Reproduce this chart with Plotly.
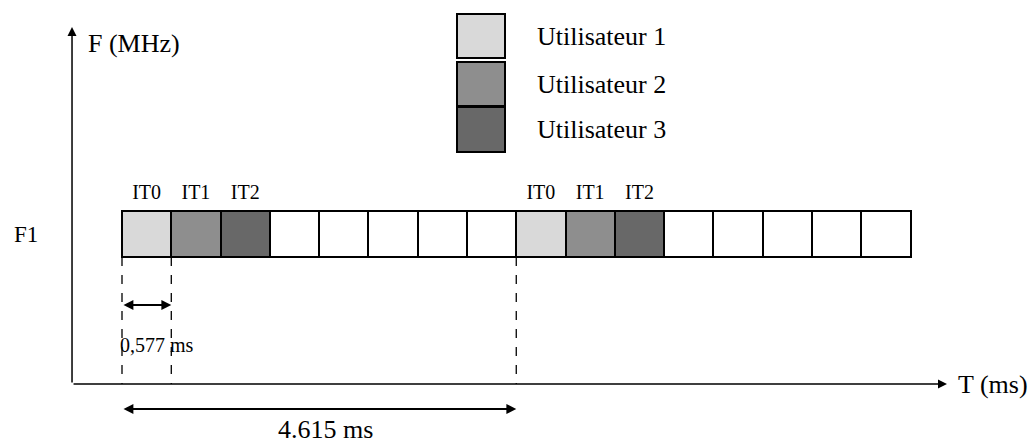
import plotly.graph_objects as go

# ---------------- data ----------------
slot_ms = 0.577            # duration of one time slot (IT)
frame_ms = 4.615           # TDMA frame duration (8 slots)
n_slots = 16               # slots drawn on the F1 carrier
slot_labels = ["IT0", "IT1", "IT2"]          # labelled slots in every frame
users = ["Utilisateur 1", "Utilisateur 2", "Utilisateur 3"]
user_colors = ["#d9d9d9", "#8e8e8e", "#686868"]
channel_name = "F1"
channel_level = 150        # vertical position of the F1 carrier row
row_height = 46

FONT = "Liberation Serif, Times New Roman, serif"
W, H = 1033, 446

# ---------------- slots ----------------
starts = [i * frame_ms / 8 for i in range(n_slots)]
centers = [s + frame_ms / 16 for s in starts]
colors = []
for i in range(n_slots):
    k = i % 8
    colors.append(user_colors[k] if k < len(users) else "white")

fig = go.Figure()
fig.add_trace(go.Bar(
    x=centers, y=[row_height] * n_slots, base=channel_level - row_height / 2,
    width=[frame_ms / 8] * n_slots,
    marker=dict(color=colors, line=dict(color="black", width=2)),
    showlegend=False, hoverinfo="skip"))

# IT labels above the coloured slots
lab_x, lab_t = [], []
for f in range(n_slots // 8):
    for j, lab in enumerate(slot_labels):
        lab_x.append(centers[f * 8 + j])
        lab_t.append(lab)
fig.add_trace(go.Scatter(
    x=lab_x, y=[channel_level + row_height / 2 + 17] * len(lab_x),
    mode="text", text=lab_t, textfont=dict(family=FONT, size=20, color="black"),
    showlegend=False, hoverinfo="skip"))

# ---------------- axes (drawn as arrows) ----------------
x_axis_left = -0.585
x_axis_right = 9.657
y_top = 357
ann = []
ann.append(dict(x=x_axis_left, y=y_top, ax=x_axis_left, ay=0, xref="x", yref="y",
                axref="x", ayref="y", showarrow=True, text="", arrowhead=2,
                arrowsize=1.2, arrowwidth=1.5, arrowcolor="black", standoff=0))
ann.append(dict(x=x_axis_right, y=0, ax=x_axis_left, ay=0, xref="x", yref="y",
                axref="x", ayref="y", showarrow=True, text="", arrowhead=2,
                arrowsize=1.2, arrowwidth=1.5, arrowcolor="black", standoff=0))

# dashed guides
shapes = []
for t in [0, slot_ms, frame_ms]:
    shapes.append(dict(type="line", xref="x", yref="y", x0=t, x1=t,
                       y0=channel_level - row_height / 2, y1=0,
                       line=dict(color="black", width=1.3, dash="dash")))

# double arrows
ann.append(dict(x=slot_ms, y=79, ax=0, ay=79, xref="x", yref="y", axref="x", ayref="y",
                showarrow=True, text="", arrowhead=2, arrowside="end+start",
                arrowsize=1.1, arrowwidth=1.8, arrowcolor="black", standoff=0, startstandoff=0))
ann.append(dict(x=frame_ms, y=-25, ax=0, ay=-25, xref="x", yref="y", axref="x", ayref="y",
                showarrow=True, text="", arrowhead=2, arrowside="end+start",
                arrowsize=1.1, arrowwidth=1.8, arrowcolor="black", standoff=0, startstandoff=0))

# texts
ann.append(dict(x=slot_ms / 2, y=39, xref="x", yref="y", text="0,577 ms", showarrow=False,
                xshift=10, font=dict(family=FONT, size=20, color="black")))
ann.append(dict(x=frame_ms / 2, y=-62, xref="x", yref="y", text="4.615 ms", showarrow=False,
                xshift=6, yanchor="bottom", font=dict(family=FONT, size=26, color="black")))
ann.append(dict(x=x_axis_left, y=y_top - 16, xref="x", yref="y", text="F (MHz)", showarrow=False,
                xanchor="left", xshift=14, font=dict(family=FONT, size=26, color="black")))
ann.append(dict(x=x_axis_right, y=0, xref="x", yref="y", text="T (ms)", showarrow=False,
                xanchor="left", xshift=9, font=dict(family=FONT, size=26, color="black")))
ann.append(dict(x=x_axis_left, y=channel_level, xref="x", yref="y", text=channel_name,
                showarrow=False, xanchor="right", xshift=-32,
                font=dict(family=FONT, size=23, color="black")))

# ---------------- custom legend ----------------
box_tops = [14, 62, 107]
box_h = [44, 44, 45]
for name, col, top, h in zip(users, user_colors, box_tops, box_h):
    shapes.append(dict(type="rect", xref="paper", yref="paper",
                       x0=457 / W, x1=505 / W, y0=1 - (top + h) / H, y1=1 - top / H,
                       fillcolor=col, line=dict(color="black", width=2)))
    ann.append(dict(x=535 / W, y=1 - (top + h / 2) / H, xref="paper", yref="paper",
                    text=name, showarrow=False, xanchor="left", yanchor="middle",
                    font=dict(family=FONT, size=26, color="black")))

px_per_ms = 85.43
fig.update_layout(
    width=W, height=H, margin=dict(l=0, r=0, t=0, b=0),
    paper_bgcolor="white", plot_bgcolor="white",
    xaxis=dict(range=[-122 / px_per_ms, (W - 122) / px_per_ms], visible=False, fixedrange=True),
    yaxis=dict(range=[-62, 384], visible=False, fixedrange=True),
    shapes=shapes, annotations=ann, showlegend=False, bargap=0,
)
fig.write_html("out.html", config={"displayModeBar": False})

# remove the default page margin so the figure fills the window exactly
with open("out.html", encoding="utf-8") as fh:
    html = fh.read()
html = html.replace("<head>", "<head><style>html,body{margin:0;padding:0;overflow:hidden}</style>", 1)
with open("out.html", "w", encoding="utf-8") as fh:
    fh.write(html)
